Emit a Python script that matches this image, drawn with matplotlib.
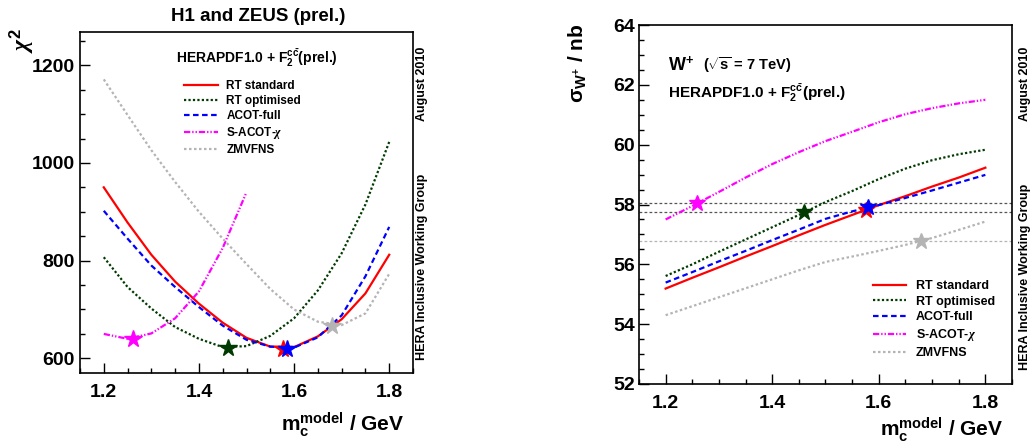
import matplotlib
matplotlib.use("Agg")
import matplotlib.pyplot as plt
from matplotlib.ticker import MultipleLocator

# ---------------- data ----------------
mc = [1.20, 1.25, 1.30, 1.35, 1.40, 1.45, 1.50, 1.55, 1.60, 1.65, 1.70, 1.75, 1.80]
mc_sacot = [1.20, 1.25, 1.30, 1.35, 1.40, 1.45, 1.50]

series_names = ["RT standard", "RT optimised", "ACOT-full", r"S-ACOT-$\chi$", "ZMVFNS"]

chi2_rt_std = [950, 878, 812, 757, 712, 673, 642, 624, 623, 645, 680, 733, 812]
chi2_rt_opt = [807, 746, 702, 664, 640, 623, 625, 646, 682, 739, 815, 915, 1043]
chi2_acot = [902, 845, 790, 746, 705, 667, 638, 624, 622, 643, 688, 768, 869]
chi2_sacot = [650, 640, 651, 682, 737, 826, 940]
chi2_zmvfns = [1171, 1098, 1026, 961, 900, 845, 793, 742, 700, 675, 668, 692, 773]

sig_rt_std = [55.19, 55.55, 55.90, 56.26, 56.61, 56.97, 57.32, 57.65, 57.98, 58.28, 58.60, 58.90, 59.23]
sig_rt_opt = [55.61, 56.00, 56.42, 56.83, 57.24, 57.65, 58.08, 58.45, 58.85, 59.20, 59.48, 59.68, 59.83]
sig_acot = [55.39, 55.74, 56.10, 56.45, 56.81, 57.16, 57.52, 57.77, 57.98, 58.22, 58.47, 58.73, 58.99]
sig_sacot = [57.50, 57.95, 58.42, 58.90, 59.35, 59.75, 60.12, 60.43, 60.75, 61.02, 61.22, 61.38, 61.50]
sig_zmvfns = [54.30, 54.60, 54.90, 55.20, 55.50, 55.80, 56.08, 56.26, 56.45, 56.65, 56.88, 57.15, 57.43]

# best-fit (minimum chi2) points: RT std, RT opt, ACOT, S-ACOT, ZMVFNS
star_mc_chi2 = [1.576, 1.461, 1.586, 1.261, 1.680]
star_chi2 = [620, 622, 620, 640, 667]
star_mc_sig = [1.576, 1.459, 1.580, 1.258, 1.679]
star_sig = [57.82, 57.75, 57.93, 58.06, 56.77]

ref_lines_dark = [58.06, 57.75]
ref_lines_light = [56.77]

# ---------------- style ----------------
plt.rcParams['font.family'] = ['Liberation Sans', 'DejaVu Sans']
plt.rcParams['font.weight'] = 'bold'
plt.rcParams['mathtext.fontset'] = 'custom'
plt.rcParams['mathtext.rm'] = 'Liberation Sans:bold'
plt.rcParams['mathtext.bf'] = 'Liberation Sans:bold'
plt.rcParams['mathtext.sf'] = 'Liberation Sans:bold'
plt.rcParams['mathtext.it'] = 'Liberation Serif:italic'
plt.rcParams['lines.scale_dashes'] = False

colors = ['#ff0000', '#003a00', '#0000ff', '#ff00ff', '#b4b4b4']
styles = ['-', (0, (1.6, 1.6)), (0, (4.0, 2.5)), (0, (4.5, 1.4, 1.0, 1.4, 1.0, 1.4)), (0, (1.8, 1.8))]
lws = [1.6, 1.6, 1.6, 1.6, 1.6]

W, H = 1032, 446
fig = plt.figure(figsize=(W / 100, H / 100), dpi=100)


def fx(px):
    return px / W


def fy(py):
    return 1 - py / H


def box(l, t, r, b):
    return [fx(l), fy(b), (r - l) / W, (b - t) / H]


ax1 = fig.add_axes(box(80, 32, 413, 373))
ax2 = fig.add_axes(box(639, 25, 1012, 384))

for ax in (ax1, ax2):
    ax.set_xlim(1.15, 1.85)
    ax.xaxis.set_major_locator(MultipleLocator(0.2))
    ax.xaxis.set_minor_locator(MultipleLocator(0.05))
    ax.tick_params(which='both', direction='in', top=False, right=False, width=1.0)
    ax.tick_params(which='major', length=7)
    ax.tick_params(which='minor', length=3.8)
    ax.tick_params(axis='x', which='major', labelsize=14, pad=8)
    for s in ax.spines.values():
        s.set_linewidth(1.2)

# ---------- left panel ----------
ax1.set_ylim(570, 1268)
ax1.yaxis.set_major_locator(MultipleLocator(200))
ax1.yaxis.set_minor_locator(MultipleLocator(50))
ax1.tick_params(axis='y', which='major', labelsize=14, pad=4)

chi2_series = [(mc, chi2_rt_std), (mc, chi2_rt_opt), (mc, chi2_acot), (mc_sacot, chi2_sacot), (mc, chi2_zmvfns)]
for (xs, ys), c, ls, lw, name in zip(chi2_series, colors, styles, lws, series_names):
    ax1.plot(xs, ys, color=c, linestyle=ls, lw=lw, label=name)
for xv, yv, c in zip(star_mc_chi2, star_chi2, colors):
    ax1.plot([xv], [yv], marker='*', ms=13, color=c, mec=c, linestyle='none', zorder=5)

leg1 = ax1.legend(loc='upper left', bbox_to_anchor=(fx(184), fy(80)), bbox_transform=fig.transFigure,
                  frameon=False, fontsize=8.5, handlelength=2.9, handletextpad=0.7,
                  labelspacing=0.26, borderpad=0, borderaxespad=0)

fig.text(fx(258), fy(21), "H1 and ZEUS (prel.)", ha='center', va='baseline', fontsize=13.5)
fig.text(fx(257), fy(63), r"HERAPDF1.0 + $\mathrm{F_{2}^{c\bar{c}}}$(prel.)", ha='center', va='baseline', fontsize=10)
fig.text(fx(22), fy(28), r"$\chi^{\mathrm{2}}$", rotation=90, ha='center', va='top', fontsize=17)
fig.text(fx(404), fy(431), r"$\mathrm{m_{c}^{model}}$ / GeV", ha='right', va='baseline', fontsize=15)

# ---------- right panel ----------
ax2.set_ylim(52, 64)
ax2.yaxis.set_major_locator(MultipleLocator(2))
ax2.yaxis.set_minor_locator(MultipleLocator(0.5))
ax2.tick_params(axis='y', which='major', labelsize=14, pad=3)

for yv in ref_lines_dark:
    ax2.axhline(yv, color='#555555', lw=0.9, linestyle=(0, (2.0, 1.6)), zorder=1)
for yv in ref_lines_light:
    ax2.axhline(yv, color='#b4b4b4', lw=0.9, linestyle=(0, (2.0, 1.6)), zorder=1)

sig_series = [sig_rt_std, sig_rt_opt, sig_acot, sig_sacot, sig_zmvfns]
for ys, c, ls, lw, name in zip(sig_series, colors, styles, lws, series_names):
    ax2.plot(mc, ys, color=c, linestyle=ls, lw=lw, label=name)
for xv, yv, c in zip(star_mc_sig, star_sig, colors):
    ax2.plot([xv], [yv], marker='*', ms=12, color=c, mec=c, linestyle='none', zorder=5)

leg2 = ax2.legend(loc='upper left', bbox_to_anchor=(fx(873), fy(280)), bbox_transform=fig.transFigure,
                  frameon=False, fontsize=9, handlelength=2.6, handletextpad=0.8,
                  labelspacing=0.3, borderpad=0, borderaxespad=0)

fig.text(fx(668), fy(71), r"W$^{+}$", ha='left', va='baseline', fontsize=13)
fig.text(fx(703), fy(70), r"($\sqrt{\mathrm{s}}$ = 7 TeV)", ha='left', va='baseline', fontsize=10.5)
fig.text(fx(668), fy(98), r"HERAPDF1.0 + $\mathrm{F_{2}^{c\bar{c}}}$(prel.)", ha='left', va='baseline', fontsize=11)
fig.text(fx(578), fy(24), r"$\mathrm{\sigma_{W^{+}}}$ / nb", rotation=90, ha='center', va='top', fontsize=15)
fig.text(fx(1003), fy(436), r"$\mathrm{m_{c}^{model}}$ / GeV", ha='right', va='baseline', fontsize=15)

# ---------- side texts ----------
for xc, yh in ((422, 267), (1025, 277)):
    fig.text(fx(xc), fy(83.5), "August 2010", rotation=90, ha='center', va='center', fontsize=9)
    fig.text(fx(xc), fy(yh), "HERA Inclusive Working Group", rotation=90, ha='center', va='center', fontsize=9)

fig.savefig("out.png", dpi=100)
